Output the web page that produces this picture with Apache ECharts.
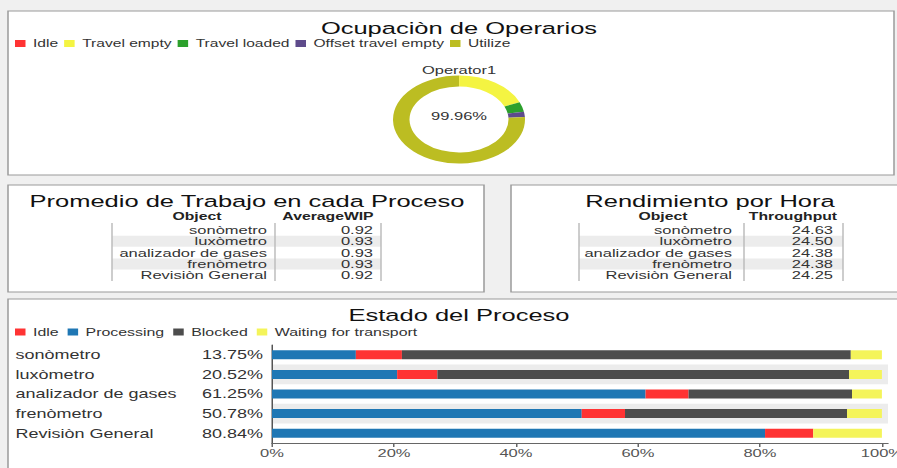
<!DOCTYPE html>
<html>
<head>
<meta charset="utf-8">
<script src="https://cdn.jsdelivr.net/npm/echarts@6/dist/echarts.min.js"></script>
<style>
html, body { margin: 0; padding: 0; background: #f0f0f0; overflow: hidden; }
/* the dashboard is drawn narrow and stretched sideways, like the screenshot */
#main { width: 598px; height: 468px; transform: scaleX(1.5); transform-origin: 0 0; }
</style>
</head>
<body>
<div id="main"></div>
<script>
// operator occupation (donut)
var pieNames = ['Idle', 'Travel empty', 'Travel loaded', 'Offset travel empty', 'Utilize'];
var pieValues = [0.04, 18.5, 3.6, 2.0, 75.86];
var pieColors = ['#ff3333', '#f4f442', '#2ca02c', '#5e4b8b', '#bcbd22'];
var operatorName = 'Operator1';
var operatorUtil = '99.96%';

// tables
var objects = ['sonòmetro', 'luxòmetro', 'analizador de gases', 'frenòmetro', 'Revisiòn General'];
var avgWip = [0.92, 0.93, 0.93, 0.93, 0.92];
var throughput = [24.63, 24.50, 24.38, 24.38, 24.25];

// process state (stacked bars, %)
var stateNames = ['Idle', 'Processing', 'Blocked', 'Waiting for transport'];
var stateColors = ['#ff3333', '#1f77b4', '#4d4d4d', '#f4f45a'];
var processing = [13.75, 20.52, 61.25, 50.78, 80.84];
var idle = [7.55, 6.60, 7.05, 7.10, 7.90];
var blocked = [73.60, 67.50, 26.80, 36.40, 0];
var waiting = [5.10, 5.38, 4.90, 5.72, 11.26];

var SX = 1.5;
function u(x) { return x / SX; }
var FONT = '"Liberation Sans", Arial, sans-serif';

var chart = echarts.init(document.getElementById('main'), null, { renderer: 'svg' });

function panel(x0, y0, x1, y1) {
    return {
        type: 'rect', z: -10,
        shape: { x: u(x0), y: y0, width: u(x1) - u(x0), height: y1 - y0 },
        style: { fill: '#fff', stroke: '#9a9a9a', lineWidth: 1 }
    };
}

function table(t, header, values) {
    var els = [];
    var y0 = 230, step = 11.3;
    for (var i = 0; i < objects.length; i++) {
        var y = y0 + i * step;
        if (i % 2 === 1) {
            els.push({ type: 'rect', z: -5,
                shape: { x: u(t.left), y: y - 5.5, width: u(t.right) - u(t.left), height: 11 },
                style: { fill: '#ececec' } });
        }
        els.push({ type: 'text', style: { text: objects[i], x: u(t.objRight), y: y,
            textAlign: 'right', textVerticalAlign: 'middle', font: '11px ' + FONT, fill: '#333' } });
        els.push({ type: 'text', style: { text: values[i].toFixed(2), x: u(t.valRight), y: y,
            textAlign: 'right', textVerticalAlign: 'middle', font: '11px ' + FONT, fill: '#333' } });
    }
    [t.left, t.mid, t.right].forEach(function (x) {
        els.push({ type: 'line', shape: { x1: u(x), y1: 223, x2: u(x), y2: 281 },
            style: { stroke: '#bdbdbd', lineWidth: 1 } });
    });
    els.push({ type: 'text', style: { text: 'Object', x: u(t.objCenter), y: 216.7,
        textAlign: 'center', textVerticalAlign: 'middle', font: 'bold 10.5px ' + FONT, fill: '#222' } });
    els.push({ type: 'text', style: { text: header, x: u(t.valCenter), y: 216.7,
        textAlign: 'center', textVerticalAlign: 'middle', font: 'bold 10.5px ' + FONT, fill: '#222' } });
    return els;
}

var graphics = [
    panel(8, 11, 894, 175),
    panel(8, 185, 484, 292),
    panel(511, 185, 910, 292),
    panel(8, 299, 910, 480)
].concat(
    table({ left: 112, mid: 275, right: 381, objCenter: 197, valCenter: 328, objRight: 267, valRight: 373 }, 'AverageWIP', avgWip),
    table({ left: 579, mid: 744, right: 843, objCenter: 663, valCenter: 793, objRight: 732, valRight: 833 }, 'Throughput', throughput)
);

function titleAt(text, x, top, size, color) {
    return { text: text, left: u(x), top: top, textAlign: 'center', padding: 0,
        textStyle: { fontSize: size, fontWeight: 'normal', color: color, fontFamily: FONT } };
}

var barSeries = [
    { name: 'Processing', data: processing, color: stateColors[1] },
    { name: 'Idle', data: idle, color: stateColors[0] },
    { name: 'Blocked', data: blocked, color: stateColors[2] },
    { name: 'Waiting for transport', data: waiting, color: stateColors[3] }
].map(function (s) {
    return { name: s.name, type: 'bar', stack: 'state', barWidth: 9, data: s.data,
        itemStyle: { color: s.color }, silent: true };
});

var option = {
    animation: false,
    backgroundColor: '#f0f0f0',
    graphic: graphics,
    title: [
        titleAt('Ocupaciòn de Operarios', 459, 20, 17, '#111'),
        titleAt(operatorName, 459, 64.5, 11, '#333'),
        titleAt(operatorUtil, 459, 111, 11, '#333'),
        titleAt('Promedio de Trabajo en cada Proceso', 247, 193, 17, '#111'),
        titleAt('Rendimiento por Hora', 710, 193, 17, '#111'),
        titleAt('Estado del Proceso', 459, 307, 17, '#111')
    ],
    legend: [
        { data: pieNames, left: u(15), top: 38.5, padding: 0, itemGap: 4, itemWidth: 7, itemHeight: 7,
          icon: 'rect', selectedMode: false, textStyle: { fontSize: 10.4, color: '#333', fontFamily: FONT } },
        { data: stateNames, left: u(15), top: 326.5, padding: 0, itemGap: 6, itemWidth: 7, itemHeight: 7,
          icon: 'rect', selectedMode: false, textStyle: { fontSize: 10.6, color: '#333', fontFamily: FONT } }
    ],
    grid: { left: u(272), top: 345, width: u(888) - u(272), height: 98, outerBoundsMode: 'none' },
    xAxis: {
        type: 'value', min: 0, max: 101, interval: 20,
        axisLine: { show: true, lineStyle: { color: '#666' } },
        axisTick: { show: true, length: 4, lineStyle: { color: '#666' } },
        splitLine: { show: false },
        axisLabel: { formatter: '{value}%', showMaxLabel: false, margin: 5,
            fontSize: 11, color: '#555', fontFamily: FONT }
    },
    yAxis: {
        type: 'category', inverse: true, data: objects,
        axisLine: { show: true, lineStyle: { color: '#555' } },
        axisTick: { show: false },
        splitArea: { show: true, areaStyle: { color: ['rgba(255,255,255,0)', '#ececec'] } },
        axisLabel: {
            margin: 6,
            formatter: function (v, i) {
                return '{n|' + v + '}{p|' + processing[i].toFixed(2) + '%}';
            },
            rich: {
                n: { width: 121, align: 'left', fontSize: 12, color: '#333', fontFamily: FONT },
                p: { width: 44, align: 'right', fontSize: 12, color: '#333', fontFamily: FONT }
            }
        }
    },
    series: [{
        name: 'Ocupacion', type: 'pie', center: [u(459), 119.5], radius: [33, 44],
        startAngle: 90, clockwise: true, silent: true, label: { show: false }, labelLine: { show: false },
        data: pieNames.map(function (n, i) {
            return { name: n, value: pieValues[i], itemStyle: { color: pieColors[i] } };
        })
    }].concat(barSeries)
};

chart.setOption(option);
</script>
</body>
</html>
